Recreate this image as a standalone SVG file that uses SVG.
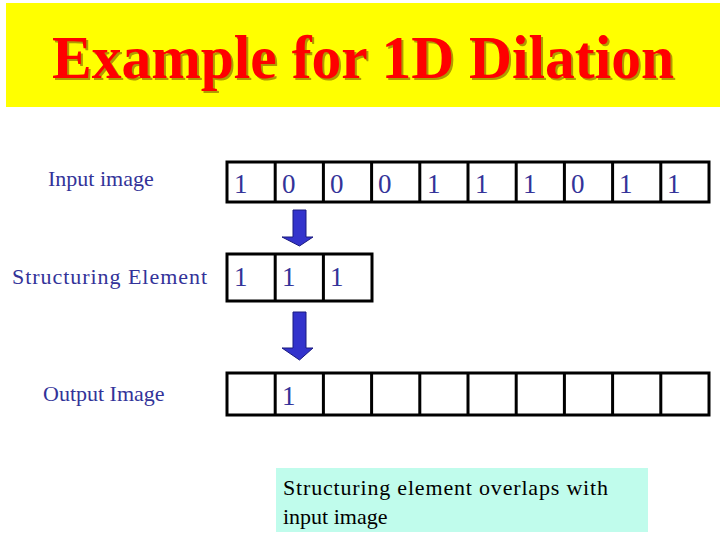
<svg xmlns="http://www.w3.org/2000/svg" width="720" height="540" viewBox="0 0 720 540">
<style>
.cell{fill:#fff;stroke:#000;stroke-width:3}
.grid{stroke:#000;stroke-width:3;fill:none}
.arr{fill:#3333cc;stroke:#1a1a80;stroke-width:1}
</style>
<rect width="720" height="540" fill="#fff"/>
<g id="title">
<rect x="6" y="3" width="714" height="104" fill="#ffff00"/>
<text style="font-family:'Liberation Serif',serif;font-size:62px;font-weight:bold" x="54" y="80" fill="#b09a00" textLength="622" lengthAdjust="spacingAndGlyphs">Example for 1D Dilation</text>
<text style="font-family:'Liberation Serif',serif;font-size:62px;font-weight:bold" x="52" y="78" fill="#ff0000" textLength="622" lengthAdjust="spacingAndGlyphs">Example for 1D Dilation</text>
</g>
<g id="labels" fill="#333399">
<text style="font-family:'Liberation Serif',serif;font-size:22px" x="48" y="186">Input image</text>
<text style="font-family:'Liberation Serif',serif;font-size:22px" x="12" y="284" textLength="195" lengthAdjust="spacing">Structuring Element</text>
<text style="font-family:'Liberation Serif',serif;font-size:22px" x="43" y="401">Output Image</text>
</g>
<g id="input">
<rect class="cell" x="227" y="162" width="482" height="40"/>
<path class="grid" d="M275.2 162V202M323.4 162V202M371.6 162V202M419.8 162V202M468 162V202M516.2 162V202M564.4 162V202M612.6 162V202M660.8 162V202"/>
<text style="font-family:'Liberation Serif',serif;font-size:27px" fill="#333399" x="234" y="193">1</text>
<text style="font-family:'Liberation Serif',serif;font-size:27px" fill="#333399" x="282" y="193">0</text>
<text style="font-family:'Liberation Serif',serif;font-size:27px" fill="#333399" x="330" y="193">0</text>
<text style="font-family:'Liberation Serif',serif;font-size:27px" fill="#333399" x="378" y="193">0</text>
<text style="font-family:'Liberation Serif',serif;font-size:27px" fill="#333399" x="427" y="193">1</text>
<text style="font-family:'Liberation Serif',serif;font-size:27px" fill="#333399" x="475" y="193">1</text>
<text style="font-family:'Liberation Serif',serif;font-size:27px" fill="#333399" x="523" y="193">1</text>
<text style="font-family:'Liberation Serif',serif;font-size:27px" fill="#333399" x="571" y="193">0</text>
<text style="font-family:'Liberation Serif',serif;font-size:27px" fill="#333399" x="619" y="193">1</text>
<text style="font-family:'Liberation Serif',serif;font-size:27px" fill="#333399" x="667" y="193">1</text>
</g>
<g id="se">
<rect class="cell" x="227" y="254" width="145" height="47"/>
<path class="grid" d="M275.2 254V301M323.4 254V301"/>
<text style="font-family:'Liberation Serif',serif;font-size:27px" fill="#333399" x="234" y="286">1</text>
<text style="font-family:'Liberation Serif',serif;font-size:27px" fill="#333399" x="282" y="286">1</text>
<text style="font-family:'Liberation Serif',serif;font-size:27px" fill="#333399" x="330" y="286">1</text>
</g>
<g id="output">
<rect class="cell" x="227" y="373" width="482" height="42"/>
<path class="grid" d="M275.2 373V415M323.4 373V415M371.6 373V415M419.8 373V415M468 373V415M516.2 373V415M564.4 373V415M612.6 373V415M660.8 373V415"/>
<text style="font-family:'Liberation Serif',serif;font-size:27px" fill="#333399" x="282" y="405">1</text>
</g>
<g id="connectors">
<path class="arr" d="M293 210H306V237H313L299.5 246L282 237H293Z"/>
<path class="arr" d="M293 312H306V348H313L299.5 360L282 348H293Z"/>
</g>
<g id="note">
<rect x="276" y="468" width="372" height="64" fill="#c0fcec"/>
<text style="font-family:'Liberation Serif',serif;font-size:22px" x="283" y="495" fill="#000" textLength="325" lengthAdjust="spacing">Structuring element overlaps with</text>
<text style="font-family:'Liberation Serif',serif;font-size:22px" x="283" y="524" fill="#000">input image</text>
</g>
</svg>
